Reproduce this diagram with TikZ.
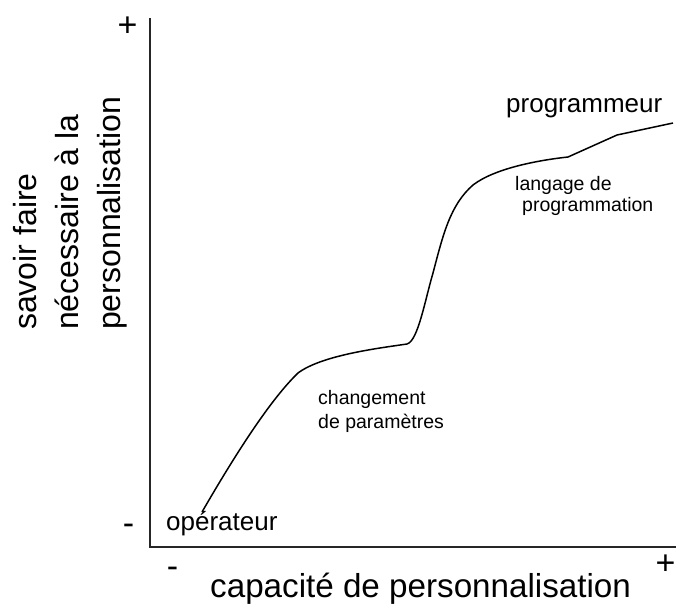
\documentclass[tikz,border=0pt]{standalone}
\usepackage{fontspec}
\setmainfont{Liberation Sans}
\begin{document}
\begin{tikzpicture}[x=1pt,y=-1pt,
  lbl/.style={inner sep=0pt,anchor=base west},
  big/.style={lbl,font=\fontsize{32}{38}\selectfont},
  mid/.style={lbl,font=\fontsize{26}{30}\selectfont},
  small/.style={lbl,font=\fontsize{19.5}{24}\selectfont},
  sign/.style={inner sep=0pt,font=\fontsize{34}{34}\selectfont},
  axis/.style={line width=1.5pt,black!85},
  curve/.style={line width=1.5pt,black}]
\useasboundingbox (0,0) rectangle (676,603);
% axes
\coordinate (origin) at (150,547);
\coordinate (ytop) at (150,18);
\coordinate (xend) at (676,547);
\draw[axis] (ytop) -- (origin) -- (xend);
% axis tick labels
\node[sign] (yplus) at (127.5,27) {+};
\node[sign] (yminus) at (128.5,529) {-};
\node[sign] (xminus) at (172.5,572) {-};
\node[sign] (xplus) at (665.5,565) {+};
% axis titles
\node[big,font=\fontsize{33.2}{38}\selectfont] (xtitle) at (210,597) {capacité de personnalisation};
\node[big,rotate=90] (ytitle1) at (36,330) {savoir faire};
\node[big,rotate=90] (ytitle2) at (78,330) {nécessaire à la};
\node[big,rotate=90] (ytitle3) at (120,330) {personnalisation};
% curve
\draw[curve] (202,512) .. controls (235,455) and (270,400) .. (298,373)
  .. controls (322,355) and (380,348) .. (407,344)
  .. controls (418,341) and (425,300) .. (433,273)
  .. controls (443,235) and (450,205) .. (473,185)
  .. controls (495,168) and (540,160) .. (568,157)
  -- (617,135) -- (673,123);
% labels
\node[mid] (oper) at (166,530) {opérateur};
\node[mid] (prog) at (506,112) {programmeur};
\node[small] (chg1) at (318,404) {changement};
\node[small] (chg2) at (318,428) {de paramètres};
\node[small] (lang1) at (515,190) {langage de};
\node[small] (lang2) at (522,211) {programmation};
\end{tikzpicture}
\end{document}
